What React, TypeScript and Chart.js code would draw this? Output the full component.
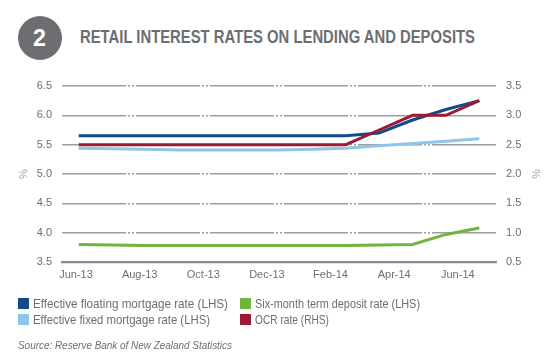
import React, { useEffect, useLayoutEffect, useRef } from "react";
import { Chart, registerables } from "chart.js";

Chart.register(...registerables);

const months = ["Jun-13","Jul-13","Aug-13","Sep-13","Oct-13","Nov-13","Dec-13","Jan-14","Feb-14","Mar-14","Apr-14","May-14","Jun-14"];
const tickLabels = ["Jun-13","Aug-13","Oct-13","Dec-13","Feb-14","Apr-14","Jun-14"];
const floatingRate = [5.65,5.65,5.65,5.65,5.65,5.65,5.65,5.65,5.65,5.7,5.92,6.1,6.25];
const fixedRate = [5.44,5.43,5.42,5.41,5.41,5.41,5.41,5.42,5.44,5.48,5.52,5.56,5.6];
const depositRate = [3.8,3.79,3.78,3.78,3.78,3.78,3.78,3.78,3.78,3.79,3.8,3.97,4.08];
const ocrRate = [2.5,2.5,2.5,2.5,2.5,2.5,2.5,2.5,2.5,2.75,3.0,3.0,3.25];

const SANS = "'Liberation Sans', Arial, sans-serif";
const GREY = "#6d6e71";
const C_FLOAT = "#134b8a";
const C_FIXED = "#8dc6ea";
const C_DEP = "#72b43c";
const C_OCR = "#9b1b30";

function FitText({ width, style, children }: { width: number; style: React.CSSProperties; children: React.ReactNode }) {
  const ref = useRef<HTMLSpanElement | null>(null);
  useLayoutEffect(() => {
    const el = ref.current;
    if (!el) return;
    el.style.transform = "none";
    const w = el.getBoundingClientRect().width;
    if (w > 0) el.style.transform = `scaleX(${width / w})`;
  }, [width]);
  return (
    <span ref={ref} style={{ display: "inline-block", whiteSpace: "nowrap", transformOrigin: "left center", ...style }}>
      {children}
    </span>
  );
}

export default function App() {
  const ref = useRef<HTMLCanvasElement | null>(null);
  useEffect(() => {
    if (!ref.current) return;
    const chart = new Chart(ref.current, {
      type: "line",
      data: {
        labels: months,
        datasets: [
          { label: "Six-month term deposit rate (LHS)", data: depositRate, borderColor: C_DEP, yAxisID: "y", xAxisID: "x" },
          { label: "Effective fixed mortgage rate (LHS)", data: fixedRate, borderColor: C_FIXED, yAxisID: "y", xAxisID: "x" },
          { label: "OCR rate (RHS)", data: ocrRate, borderColor: C_OCR, yAxisID: "y2", xAxisID: "x" },
          { label: "Effective floating mortgage rate (LHS)", data: floatingRate, borderColor: C_FLOAT, yAxisID: "y", xAxisID: "x" },
        ].map((d) => ({ ...d, borderWidth: 3, pointRadius: 0, tension: 0, fill: false })),
      },
      options: {
        animation: false,
        responsive: false,
        maintainAspectRatio: false,
        layout: { padding: { top: 86, left: 0, right: 0, bottom: 0 } },
        plugins: { legend: { display: false }, tooltip: { enabled: false } },
        scales: {
          x: {
            type: "category",
            offset: true,
            display: false,
          },
          xl: {
            type: "linear",
            position: "bottom",
            min: -0.22,
            max: 6.6,
            afterBuildTicks: (s: any) => { s.ticks = tickLabels.map((_, i) => ({ value: i })); },
            afterFit: (s: any) => { s.height = 92; },
            grid: { display: false, drawTicks: false },
            border: { display: true, color: "#8d8e90", width: 2.2 },
            ticks: {
              autoSkip: false,
              maxRotation: 0,
              padding: 6,
              color: GREY,
              font: { family: SANS, size: 11 },
              callback: (v: any) => tickLabels[Math.round(Number(v))] ?? "",
            },
          },
          y: {
            position: "left",
            min: 3.5,
            max: 6.5,
            afterFit: (s: any) => { s.width = 62; },
            ticks: { stepSize: 0.5, padding: 10, color: GREY, font: { family: SANS, size: 11 }, callback: (v: any) => Number(v).toFixed(1) },
            grid: { color: "#9d9ea0", lineWidth: 1.4, drawTicks: false },
            border: { display: false, dash: [64, 2, 2, 2, 2, 2] },
            title: { display: true, text: "%", color: "#9d9ea0", font: { family: SANS, size: 11 }, padding: { top: 17, bottom: 0 } },
          },
          y2: {
            position: "right",
            min: 0.5,
            max: 3.5,
            afterFit: (s: any) => { s.width = 54; },
            ticks: { stepSize: 0.5, padding: 10, color: GREY, font: { family: SANS, size: 11 }, callback: (v: any) => Number(v).toFixed(1) },
            grid: { display: false, drawTicks: false },
            border: { display: false },
            title: { display: true, text: "%", color: "#9d9ea0", font: { family: SANS, size: 11 }, padding: { top: 8, bottom: 0 } },
          },
        },
      } as any,
    });
    return () => chart.destroy();
  }, []);

  const legendItems = [
    { t: "Effective floating mortgage rate (LHS)", c: C_FLOAT, x: 18, y: 296, w: 195 },
    { t: "Effective fixed mortgage rate (LHS)", c: C_FIXED, x: 18, y: 312, w: 177 },
    { t: "Six-month term deposit rate (LHS)", c: C_DEP, x: 240, y: 296, w: 165 },
    { t: "OCR rate (RHS)", c: C_OCR, x: 240, y: 312, w: 74 },
  ];

  return (
    <div style={{ position: "fixed", left: 0, top: 0, width: 550, height: 354, background: "#fff", overflow: "hidden", fontFamily: SANS }}>
      <div style={{ position: "absolute", left: 18, top: 16, width: 44, height: 44, borderRadius: "50%", background: "#6d6e71" }} />
      <div style={{ position: "absolute", left: 33, top: 25, lineHeight: "26px" }}>
        <FitText width={13} style={{ fontWeight: "bold", fontSize: 23, color: "#fff" }}>2</FitText>
      </div>
      <div style={{ position: "absolute", left: 80, top: 27, lineHeight: "20px" }}>
        <FitText width={395} style={{ fontWeight: "bold", fontSize: 17.5, color: GREY }}>RETAIL INTEREST RATES ON LENDING AND DEPOSITS</FitText>
      </div>
      <canvas ref={ref} width={550} height={354} style={{ position: "absolute", left: 0, top: 0, width: 550, height: 354 }} />
      {legendItems.map((it) => (
        <div key={it.t} style={{ position: "absolute", left: it.x, top: it.y, height: 14, whiteSpace: "nowrap" }}>
          <span style={{ position: "absolute", left: 0, top: 2, width: 11, height: 11, background: it.c }} />
          <span style={{ position: "absolute", left: 15, top: -1, lineHeight: "16px" }}>
            <FitText width={it.w} style={{ fontSize: 13, color: GREY }}>{it.t}</FitText>
          </span>
        </div>
      ))}
      <div style={{ position: "absolute", left: 18, top: 337, lineHeight: "13px" }}>
        <FitText width={214} style={{ fontSize: 10.5, fontStyle: "italic", color: GREY }}>Source: Reserve Bank of New Zealand Statistics</FitText>
      </div>
    </div>
  );
}
